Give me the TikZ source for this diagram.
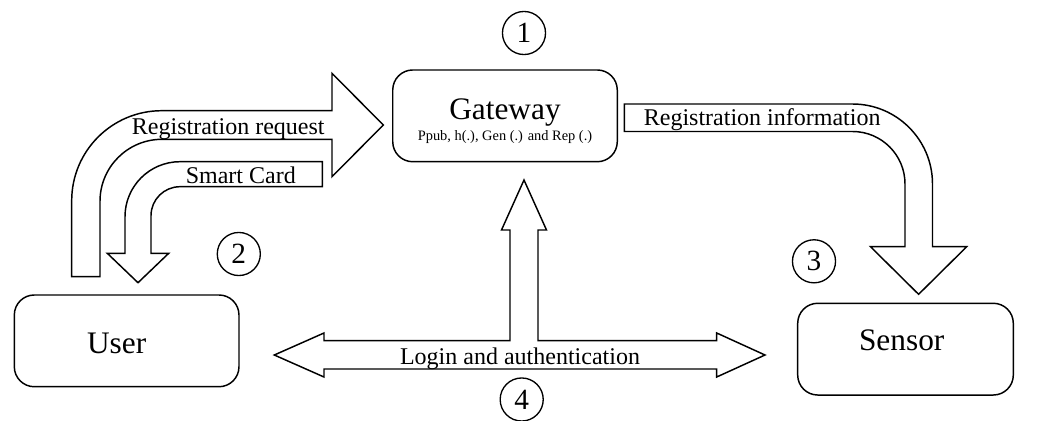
\documentclass[tikz,border=0pt]{standalone}
\usepackage{fontspec}
\setmainfont{Liberation Serif}
\begin{document}
\begin{tikzpicture}[x=0.75pt,y=-0.75pt,
  box/.style={draw, line width=1.1pt, rounded corners=15pt, inner sep=0pt, minimum height=68.8pt},
  blockarrow/.style={draw, line width=1.1pt, line join=miter},
  lbl/.style={inner sep=0pt, anchor=base, font=\fontsize{18}{20}\selectfont},
  title/.style={inner sep=0pt, anchor=base, font=\fontsize{23.5}{26}\selectfont},
  num/.style={draw, circle, line width=1pt, minimum size=32.3pt, inner sep=0pt, font=\fontsize{22}{24}\selectfont}]
\useasboundingbox (0,0) rectangle (1042,421);

% entities
\node[box, minimum width=168.4pt] (gw) at (505,115.85) {};
\node[box, minimum width=168.5pt] (user) at (126.65,340.85) {};
\node[box, minimum width=161.7pt] (sensor) at (905.5,349.15) {};

\node[title] (gwt) at (505,119) {Gateway};
\node[inner sep=0pt, anchor=base, font=\fontsize{10.8}{12}\selectfont] (gws) at (505,140) {Ppub, h(.), Gen (.) and Rep (.)};
\node[title] (usert) at (116.7,353.3) {User};
\node[title] (sensort) at (901.7,350.5) {Sensor};

% step numbers
\node[num] (n1) at (524,33) {1};
\node[num] (n2) at (238.8,254) {2};
\node[num] (n3) at (814,261.3) {3};
\node[num] (n4) at (521.7,399.5) {4};

% registration request: user -> gateway
\draw[blockarrow] (71.7,276.7) -- (71.7,200.7)
  arc[start angle=180, end angle=270, radius=90]
  -- (332,110.7) -- (332,73.3) -- (383.3,125) -- (332,176.7) -- (332,139.3)
  -- (162,139.3) arc[start angle=270, end angle=180, radius=62]
  -- (100,276.7) -- cycle;
\node[lbl] (rr) at (228.3,134.3) {Registration request};

% smart card: gateway -> user
\draw[blockarrow] (322.3,161.7) -- (180,161.7)
  arc[start angle=270, end angle=180, radius=55]
  -- (125,253.3) -- (107.3,253.3) -- (138,282.7) -- (168.7,253.3) -- (151,253.3)
  -- (151,215.7) arc[start angle=180, end angle=270, radius=29]
  -- (322.3,186.7) -- cycle;
\node[lbl] (sc) at (240.8,183.3) {Smart Card};

% registration information: gateway -> sensor
\draw[blockarrow] (624.3,104) -- (852.5,104)
  arc[start angle=270, end angle=360, radius=80]
  -- (932.5,246.7) -- (966.7,246.7) -- (918.6,294.3) -- (870.5,246.7) -- (905,246.7)
  -- (905,184) arc[start angle=0, end angle=-90, radius=52.5]
  -- (624.3,131.5) -- cycle;
\node[lbl] (ri) at (762.2,125) {Registration information};

% login and authentication: user <-> gateway <-> sensor
\draw[blockarrow] (274.3,355) -- (324,333) -- (324,340.7) -- (510,340.7)
  -- (510,230) -- (501.5,230) -- (524,180) -- (546.5,230) -- (538,230)
  -- (538,340.7) -- (716.7,340.7) -- (716.7,333) -- (765,355) -- (716.7,377)
  -- (716.7,369) -- (324,369) -- (324,377) -- cycle;
\node[lbl] (la) at (520,364) {Login and authentication};
\end{tikzpicture}
\end{document}
